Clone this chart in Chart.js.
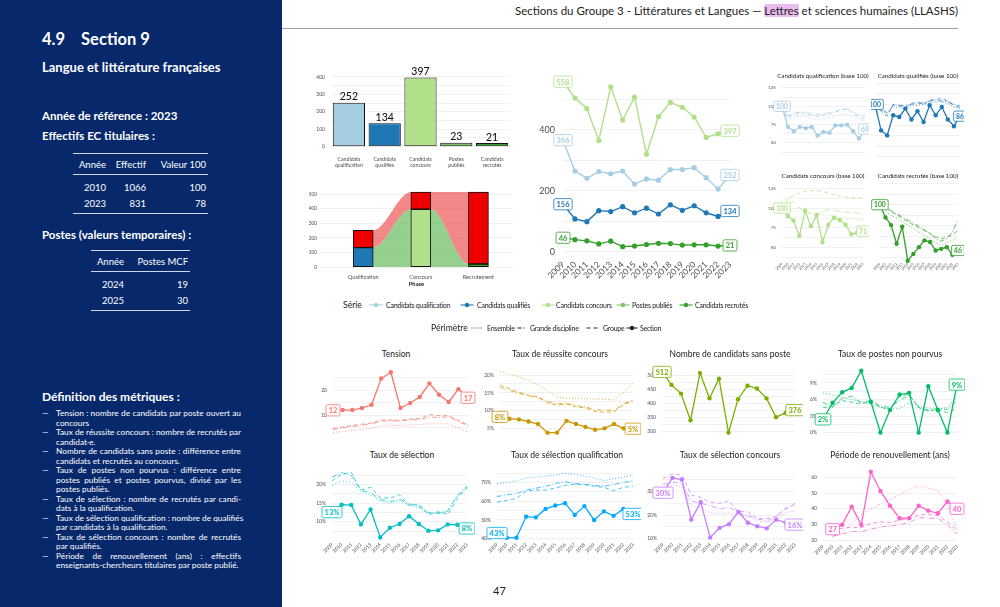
<!DOCTYPE html>
<html lang="fr">
<head>
<meta charset="utf-8">
<script src="https://cdn.jsdelivr.net/npm/chart.js@4.4.1/dist/chart.umd.min.js"></script>
<style>
  html, body { margin: 0; padding: 0; }
  body { width: 1000px; height: 607px; position: relative; overflow: hidden; background: #fff; font-family: Lato, "Open Sans", sans-serif; color: #222; }
  .abs { position: absolute; }
  #side { position: absolute; left: 0; top: 0; width: 282px; height: 607px; background: #07296c; color: #fff; }
  #side .h1 { position: absolute; left: 42px; top: 29px; font-size: 16.5px; font-weight: 700; white-space: nowrap; }
  #side .h2 { position: absolute; left: 42px; font-size: 13px; font-weight: 700; white-space: nowrap; }
  #side .h3 { position: absolute; left: 42px; font-size: 11.5px; font-weight: 700; white-space: nowrap; }
  #side table { position: absolute; border-collapse: collapse; font-size: 9.5px; border-top: 1px solid #cfd6e6; border-bottom: 1px solid #cfd6e6; table-layout: fixed; }
  #side th { font-weight: 400; padding: 5px 2px 4px 0; text-align: right; border-bottom: 1px solid #cfd6e6; white-space: nowrap; }
  #side td { padding: 2px 2px 2px 0; text-align: right; height: 12px; white-space: nowrap; }
  #side tr.r1 td { padding-top: 6px; }
  #side tr.r2 td { padding-bottom: 4px; }
  #defs { position: absolute; left: 42px; top: 409px; width: 199px; font-size: 8.3px; line-height: 9.5px; }
  #defs .it { position: relative; padding-left: 14px; }
  #defs .it::before { content: "\2014"; position: absolute; left: 0; top: 0; }
  #defs .j { text-align: justify; text-align-last: justify; white-space: nowrap; }
  .ttl { position: absolute; transform: translate(-50%, -50%); white-space: nowrap; color: #222; }
  .leg { position: absolute; white-space: nowrap; font-size: 7px; letter-spacing: -0.25px; color: #222; transform: translateY(-50%); }
  .legsvg { position: absolute; transform: translateY(-50%); }
</style>
</head>
<body>
<div id="side">
  <div class="h1">4.9&nbsp;&nbsp;&nbsp;&nbsp;Section 9</div>
  <div class="h2" style="top:59px">Langue et littérature françaises</div>
  <div class="h3" style="top:109px">Année de référence : 2023</div>
  <div class="h3" style="top:129px">Effectifs EC titulaires :</div>
  <table style="left:73px;top:153px;width:135px">
    <colgroup><col style="width:35px"><col style="width:40px"><col style="width:60px"></colgroup>
    <tr><th>Année</th><th>Effectif</th><th>Valeur 100</th></tr>
    <tr class="r1"><td>2010</td><td>1066</td><td>100</td></tr>
    <tr class="r2"><td>2023</td><td>831</td><td>78</td></tr>
  </table>
  <div class="h3" style="top:228px">Postes (valeurs temporaires) :</div>
  <table style="left:91px;top:250px;width:99px">
    <colgroup><col style="width:35px"><col style="width:64px"></colgroup>
    <tr><th>Année</th><th>Postes MCF</th></tr>
    <tr class="r1"><td>2024</td><td>19</td></tr>
    <tr class="r2"><td>2025</td><td>30</td></tr>
  </table>
  <div class="h3" style="top:389px;font-size:12px">Définition des métriques :</div>
  <div id="defs">
    <div class="it"><div class="j">Tension : nombre de candidats par poste ouvert au</div><div>concours</div></div>
    <div class="it"><div class="j">Taux de réussite concours : nombre de recrutés par</div><div>candidat·e.</div></div>
    <div class="it"><div class="j">Nombre de candidats sans poste : différence entre</div><div>candidats et recrutés au concours.</div></div>
    <div class="it"><div class="j">Taux de postes non pourvus : différence entre</div><div class="j">postes publiés et postes pourvus, divisé par les</div><div>postes publiés.</div></div>
    <div class="it"><div class="j">Taux de sélection : nombre de recrutés par candi-</div><div>dats à la qualification.</div></div>
    <div class="it"><div class="j">Taux de sélection qualification : nombre de qualifiés</div><div>par candidats à la qualification.</div></div>
    <div class="it"><div class="j">Taux de sélection concours : nombre de recrutés</div><div>par qualifiés.</div></div>
    <div class="it"><div class="j">Période de renouvellement (ans) : effectifs</div><div>enseignants-chercheurs titulaires par poste publié.</div></div>
  </div>
</div>

<div class="abs" style="right:42px;top:4px;font-size:11.5px;white-space:nowrap;color:#222">Sections du Groupe 3 - Littératures et Langues — <span style="background:#ebbdee;border-radius:2px">Lettres</span> et sciences humaines (LLASHS)</div>
<div class="abs" style="left:282px;top:28px;width:676px;height:1px;background:#9aa3b2"></div>
<div class="abs" style="left:493px;top:584px;font-size:11px;color:#222">47</div>

<script>
const years = ['2009', '2010', '2011', '2012', '2013', '2014', '2015', '2016', '2017', '2018', '2019', '2020', '2021', '2022', '2023'];

// Effectifs de l'année de référence
const barCats = [['Candidats', 'qualification'], ['Candidats', 'qualifiés'], ['Candidats', 'concours'], ['Postes', 'publiés'], ['Candidats', 'recrutés']];
const barVals = [252, 134, 397, 23, 21];
const serieNames = ['Candidats qualification', 'Candidats qualifiés', 'Candidats concours', 'Postes publiés', 'Candidats recrutés'];
const serieColors = ['#a6cee3', '#1f78b4', '#b2df8a', '#7cc36a', '#33a02c'];

// Flux entre phases (retenus / non retenus)
const phases = ['Qualification', 'Concours', 'Recrutement'];
const phaseKept = [134, 397, 21];
const phaseLost = [118, 118, 494];
const phaseColors = ['#1f78b4', '#b2df8a', '#33a02c'];

// Séries de la section
const candQualif = [366, 265, 241, 263, 256, 265, 222, 239, 235, 270, 270, 276, 243, 206, 252];
const candQualifies = [156, 108, 99, 135, 132, 148, 128, 143, 124, 154, 136, 151, 128, 116, 134];
const candConcours = [558, 504, 470, 365, 541, 432, 507, 320, 443, 490, 474, 442, 375, 387, 397];
const candRecrutes = [46, 40, 36, 26, 35, 17, 19, 24, 28, 27, 22, 23, 23, 19, 21];

// Base 100 : section, groupe, grande discipline, ensemble
const b100Qualif = [100, 72, 66, 72, 70, 72, 60, 65, 64, 74, 74, 75, 66, 56, 69];
const b100QualifGrp = [100, 84, 89, 91, 90, 88, 86, 88, 90, 92, 95, 96, 90, 85, 83];
const b100QualifGd = [100, 87, 91, 92, 92, 90, 89, 90, 91, 93, 96, 97, 92, 88, 86];
const b100QualifEns = [100, 82, 85, 87, 86, 84, 82, 83, 85, 87, 89, 90, 85, 82, 80];
const b100Qualifies = [100, 69, 63, 87, 85, 95, 82, 92, 79, 99, 87, 97, 82, 74, 86];
const b100QualifiesGrp = [100, 92, 86, 100, 98, 97, 101, 103, 100, 105, 106, 107, 104, 99, 96];
const b100QualifiesGd = [100, 95, 90, 99, 99, 98, 100, 101, 102, 104, 105, 104, 103, 100, 98];
const b100QualifiesEns = [100, 93, 89, 97, 96, 95, 98, 99, 100, 102, 103, 103, 101, 97, 95];
const b100Concours = [100, 90, 84, 65, 97, 77, 91, 57, 79, 88, 85, 79, 67, 69, 71];
const b100ConcoursGrp = [100, 112, 116, 119, 121, 122, 122, 121, 119, 117, 115, 114, 113, 113, 112];
const b100ConcoursGd = [100, 106, 108, 100, 97, 92, 93, 96, 98, 97, 96, 95, 94, 94, 93];
const b100ConcoursEns = [100, 97, 96, 95, 95, 94, 93, 92, 91, 90, 89, 88, 87, 86, 85];
const b100Recrutes = [100, 85, 76, 54, 74, 34, 42, 50, 58, 56, 46, 48, 50, 41, 46];
const b100RecrutesGrp = [100, 96, 92, 88, 84, 80, 76, 73, 70, 66, 62, 60, 62, 64, 70];
const b100RecrutesGd = [100, 97, 93, 89, 86, 82, 78, 75, 70, 66, 60, 57, 60, 68, 82];
const b100RecrutesEns = [100, 92, 88, 84, 80, 76, 72, 68, 64, 60, 55, 52, 55, 58, 62];

// Métriques : section, groupe, grande discipline, ensemble
const tension = [12, 12.1, 12.1, 12.9, 14.2, 24.6, 27.1, 12.9, 14.9, 17.3, 22.7, 18.2, 15.3, 20.4, 17];
const tensionGrp = [4.8, 5.4, 6.0, 6.5, 7.0, 8.1, 8.2, 8.0, 8.6, 8.8, 10.3, 9.9, 9.9, 8.0, 6.2];
const tensionGd = [4.4, 5.0, 5.6, 6.1, 6.6, 7.7, 7.9, 7.7, 8.2, 8.4, 9.3, 9.2, 9.4, 7.6, 5.9];
const tensionEns = [3.2, 3.6, 4.0, 4.4, 4.8, 5.8, 6.0, 6.0, 6.2, 6.4, 6.6, 6.6, 6.7, 5.0, 3.4];

const reussite = [8.3, 7.8, 7.6, 7.0, 6.3, 3.9, 3.9, 7.2, 6.3, 5.5, 4.7, 5.1, 6.3, 5.1, 5.0];
const reussiteGrp = [17.2, 16.2, 15.2, 14.4, 13.9, 12.2, 11.6, 11.9, 11.1, 10.8, 9.8, 9.6, 9.7, 11.7, 12.7];
const reussiteGd = [16.6, 15.7, 14.9, 14.2, 13.7, 12.6, 11.9, 12.1, 11.4, 11.1, 10.3, 10.2, 10.1, 12.0, 12.9];
const reussiteEns = [21.0, 20.3, 19.5, 18.4, 17.2, 15.6, 13.8, 13.6, 13.5, 13.4, 13.3, 13.2, 13.0, 15.2, 17.7];

const sansPoste = [512, 466, 435, 340, 508, 418, 488, 296, 415, 463, 453, 418, 351, 366, 376];

const nonPourvus = [2.4, 5.4, 7.3, 8.1, 11.2, 5.6, 0, 4.1, 6.9, 7.2, 0, 8.4, 4.1, 0, 8.7];
const nonPourvusGrp = [4.5, 4.8, 5.8, 5.5, 5.2, 5.6, 4.6, 4.2, 6.5, 7.0, 4.5, 3.9, 4.2, 3.6, 4.4];
const nonPourvusGd = [5.5, 4.6, 6.2, 6.6, 5.4, 5.8, 4.8, 4.6, 5.8, 6.8, 4.6, 4.0, 4.4, 4.2, 5.8];
const nonPourvusEns = [7.2, 6.8, 6.4, 6.0, 5.6, 5.2, 4.6, 4.2, 4.4, 5.4, 4.8, 4.4, 4.2, 4.6, 6.6];

const selection = [12.6, 14.6, 14.5, 9.3, 13.3, 5.8, 8.4, 9.4, 11.5, 9.4, 7.6, 7.7, 9.3, 9.2, 8.2];
const selectionGrp = [21.0, 22.8, 23.3, 18.5, 19.3, 16.5, 16.3, 17.3, 14.3, 14.8, 11.9, 12.7, 12.0, 16.2, 19.3];
const selectionGd = [22.0, 23.2, 22.5, 18.5, 17.8, 16.0, 15.4, 16.0, 14.8, 14.2, 12.5, 12.2, 13.0, 17.0, 19.6];
const selectionEns = [19.8, 21.0, 20.6, 18.0, 17.2, 15.6, 15.0, 15.6, 14.5, 13.8, 12.2, 12.5, 12.7, 17.0, 19.0];

const selQualif = [43, 40.5, 40.5, 51.8, 51.4, 55.9, 57.7, 59.0, 52.7, 57.4, 50.0, 54.6, 52.2, 55.9, 53.2];
const selQualifGrp = [59.5, 60.5, 61.5, 65.5, 66, 66, 67, 68.5, 69, 69, 68, 67.5, 65.5, 67.5, 68];
const selQualifGd = [62.5, 63.5, 64, 66, 67, 68, 69.5, 70.5, 69.5, 69, 68.5, 68, 69, 70, 71];
const selQualifEns = [69.5, 70, 71, 72.5, 73, 73.5, 74, 75, 74.5, 73.5, 72.5, 71, 72, 73, 74];

const selConcours = [29.5, 35.8, 35.1, 18.1, 25.5, 10.5, 14.6, 16.2, 21.4, 16.8, 15.3, 14.4, 18.1, 16.8, 16.0];
const selConcoursGrp = [35.5, 37.5, 37, 28.5, 27.5, 25.5, 25, 26, 21.5, 21.5, 18.5, 18.5, 19.5, 22.5, 24.5];
const selConcoursGd = [33, 34, 33.5, 26, 25, 24, 22.5, 23.5, 21, 20, 18.5, 17.5, 19.5, 23, 25];
const selConcoursEns = [30.5, 33, 32, 24, 23.5, 21, 20.5, 21, 20, 19.5, 17.5, 17, 18.5, 21, 22];

const renouv = [null, 27, 29.8, 41.3, 29.8, 63.5, 51.3, 41.9, 34, 34, 41.9, 38.8, 37.1, 44.6, 40];
const renouvGrp = [null, 26, 27.5, 28.3, 28, 30.8, 31.7, 31.3, 32.7, 33.7, 36, 36.5, 35.6, 31.7, 26];
const renouvGd = [null, 22.5, 24, 25.5, 25.5, 27, 28.5, 29, 30, 31, 34.5, 34, 34, 29.5, 24];
const renouvEns = [null, 22, 25, 31, 36, 40, 43, 46, 49, 52, 54.5, 53, 51.5, 42, 27];

Chart.defaults.font.family = 'Lato, "Open Sans", sans-serif';
Chart.defaults.color = '#4d4d4d';
Chart.defaults.animation = false;
Chart.defaults.plugins.legend.display = false;
Chart.defaults.plugins.tooltip.enabled = false;

const GRID = '#ebebeb';

// étiquettes encadrées au début et à la fin des séries de la section
const endLabels = {
  id: 'endLabels',
  afterDatasetsDraw(chart) {
    const ctx = chart.ctx;
    chart.data.datasets.forEach((ds, i) => {
      if (!ds.endLabel) return;
      const pts = chart.getDatasetMeta(i).data;
      const idx = ds.data.map((v, k) => (v == null ? -1 : k)).filter(k => k >= 0);
      const sz = ds.endLabel.size;
      [idx[0], idx[idx.length - 1]].forEach(k => {
        const p = pts[k];
        const txt = ds.endLabel.fmt(ds.data[k]);
        ctx.save();
        ctx.font = `700 ${sz}px Lato, sans-serif`;
        const w = ctx.measureText(txt).width + sz * 0.7;
        const h = sz * 1.5;
        ctx.beginPath();
        if (ctx.roundRect) ctx.roundRect(p.x - w / 2, p.y - h / 2, w, h, 1.5);
        else ctx.rect(p.x - w / 2, p.y - h / 2, w, h);
        ctx.fillStyle = '#fff';
        ctx.fill();
        ctx.lineWidth = 0.8;
        ctx.strokeStyle = ds.borderColor;
        ctx.stroke();
        ctx.fillStyle = ds.borderColor;
        ctx.textAlign = 'center';
        ctx.textBaseline = 'middle';
        ctx.fillText(txt, p.x, p.y + 0.5);
        ctx.restore();
      });
    });
  }
};

// valeurs au-dessus des barres
const barValues = {
  id: 'barValues',
  afterDatasetsDraw(chart) {
    const ctx = chart.ctx;
    const ds = chart.data.datasets[0];
    ctx.save();
    ctx.font = '500 10.5px Lato, sans-serif';
    ctx.fillStyle = '#111';
    ctx.textAlign = 'center';
    ctx.textBaseline = 'bottom';
    chart.getDatasetMeta(0).data.forEach((b, k) => ctx.fillText(ds.data[k], b.x, b.y - 0.5));
    ctx.restore();
  }
};

// place un canvas pour que la zone de tracé tombe sur plot = [x0, x1, y0, y1]
function mount(plot, yw, xh, padR, padT) {
  const [x0, x1, y0, y1] = plot;
  const d = document.createElement('div');
  d.className = 'abs';
  d.style.left = (x0 - yw) + 'px';
  d.style.top = (y0 - padT) + 'px';
  d.style.width = (x1 - x0 + yw + padR) + 'px';
  d.style.height = (y1 - y0 + padT + xh) + 'px';
  const c = document.createElement('canvas');
  d.appendChild(c);
  document.body.appendChild(d);
  return c;
}

function title(text, x, y, size) {
  const t = document.createElement('div');
  t.className = 'ttl';
  t.style.left = x + 'px';
  t.style.top = y + 'px';
  t.style.fontSize = size + 'px';
  t.textContent = text;
  document.body.appendChild(t);
}

function isMajor(v, major) {
  return Math.abs(v / major - Math.round(v / major)) < 1e-6;
}

function yScale(o) {
  return {
    min: o.min, max: o.max,
    grid: { color: GRID, lineWidth: 0.7, drawTicks: false },
    border: { display: false },
    afterBuildTicks: a => {
      const t = [];
      for (let v = Math.ceil(o.min / o.step - 1e-9) * o.step; v <= o.max + 1e-9; v += o.step) t.push({ value: +v.toFixed(6) });
      a.ticks = t;
    },
    ticks: {
      display: o.yw > 5,
      font: { size: o.tick }, padding: o.tickPad || 6, color: '#4d4d4d',
      callback: v => (isMajor(v, o.major) ? o.fmt(v) : '')
    },
    afterFit: s => { s.width = o.yw; }
  };
}

function lineSet(data, color, kind, lbl) {
  const ds = { data, borderColor: color, backgroundColor: color, pointRadius: 0, borderWidth: 0.9, tension: 0, clip: false };
  if (kind === 'sec') Object.assign(ds, { borderWidth: 1.3, pointRadius: 2.2, pointBorderWidth: 0, order: 0, endLabel: lbl });
  if (kind === 'grp') Object.assign(ds, { borderDash: [4, 3], order: 1 });
  if (kind === 'gd') Object.assign(ds, { borderDash: [5, 2, 1, 2], order: 2 });
  if (kind === 'ens') Object.assign(ds, { borderDash: [1, 2], order: 3 });
  return ds;
}

function smallLine(o) {
  const c = mount(o.plot, o.yw, o.xh, o.padR, o.padT);
  const soft = o.color + 'cc';
  const sets = [lineSet(o.sec, o.color, 'sec', { size: o.lblSize || 7.5, fmt: o.lblFmt })];
  if (o.grp) sets.push(lineSet(o.grp, soft, 'grp'));
  if (o.gd) sets.push(lineSet(o.gd, soft, 'gd'));
  if (o.ens) sets.push(lineSet(o.ens, soft, 'ens'));
  new Chart(c, {
    type: 'line',
    data: { labels: years, datasets: sets },
    options: {
      responsive: true, maintainAspectRatio: false,
      layout: { padding: { top: o.padT, right: o.padR, left: 0, bottom: o.showX ? 0 : o.xh } },
      scales: {
        x: {
          display: o.showX, offset: false, grid: { display: false, drawTicks: false }, border: { display: false },
          ticks: { font: { size: o.xFont || 5 }, maxRotation: 45, minRotation: 45, autoSkip: false, padding: 3, color: '#4d4d4d' },
          afterFit: s => { s.height = o.xh; }
        },
        y: yScale(o)
      }
    },
    plugins: [endLabels]
  });
}

// --- Barres : effectifs 2023 ---
(function () {
  const plot = [331, 510, 70, 150.2];
  const c = mount(plot, 24, 22, 5, 9);
  new Chart(c, {
    type: 'bar',
    data: {
      labels: barCats,
      datasets: [{ data: barVals, backgroundColor: serieColors, borderColor: '#111', borderWidth: 1, borderSkipped: false, barPercentage: 0.9, categoryPercentage: 1 }]
    },
    options: {
      responsive: true, maintainAspectRatio: false,
      layout: { padding: { top: 9, right: 5, left: 0, bottom: 0 } },
      scales: {
        x: { grid: { display: false, drawTicks: false }, border: { display: false }, ticks: { font: { size: 5.2, lineHeight: 1.15 }, maxRotation: 0, autoSkip: false, padding: 6, color: '#4d4d4d' }, afterFit: s => { s.height = 22; } },
        y: yScale({ min: -20, max: 440, step: 50, major: 100, fmt: v => v, tick: 5, yw: 24 })
      }
    },
    plugins: [barValues]
  });
})();

// --- Flux entre phases ---
(function () {
  const plot = [320, 513, 185, 270];
  const c = mount(plot, 15, 18, 3, 3);
  const half = 0.173;
  const keptLine = [], topLine = [];
  phases.forEach((p, k) => {
    [k - half, k, k + half].forEach(x => {
      keptLine.push({ x, y: phaseKept[k] });
      topLine.push({ x, y: phaseKept[k] + phaseLost[k] });
    });
  });
  new Chart(c, {
    data: {
      datasets: [
        { type: 'line', data: keptLine, borderWidth: 0, pointRadius: 0, cubicInterpolationMode: 'monotone', fill: 'origin', backgroundColor: 'rgba(110,190,100,0.72)', order: 2 },
        { type: 'line', data: topLine, borderWidth: 0, pointRadius: 0, cubicInterpolationMode: 'monotone', fill: '-1', backgroundColor: 'rgba(238,80,80,0.68)', order: 2 },
        { type: 'bar', data: phaseKept.map((v, k) => ({ x: k, y: [0, v] })), backgroundColor: phaseColors, borderColor: '#111', borderWidth: 1, borderSkipped: false, barThickness: 20, grouped: false, order: 0 },
        { type: 'bar', data: phaseKept.map((v, k) => ({ x: k, y: [v, v + phaseLost[k]] })), backgroundColor: '#ee0000', borderColor: '#111', borderWidth: 1, borderSkipped: false, barThickness: 20, grouped: false, order: 0 }
      ]
    },
    options: {
      responsive: true, maintainAspectRatio: false,
      layout: { padding: { top: 3, right: 3, left: 0, bottom: 0 } },
      scales: {
        x: {
          type: 'linear', offset: false, min: -0.75, max: 2.6, grid: { display: false, drawTicks: false }, border: { display: false },
          afterBuildTicks: a => { a.ticks = phases.map((p, k) => ({ value: k })); },
          ticks: { font: { size: 5.5 }, padding: 4, color: '#4d4d4d', callback: v => phases[v] },
          title: { display: true, text: 'Phase', font: { size: 5.8, weight: 'bold' }, color: '#222', padding: 0 },
          afterFit: s => { s.height = 18; }
        },
        y: yScale({ min: -20, max: 544, step: 50, major: 100, fmt: v => v, tick: 4.8, yw: 15, tickPad: 3 })
      }
    }
  });
})();

// --- Séries de la section ---
(function () {
  const plot = [563, 730, 70, 256.4];
  const c = mount(plot, 33, 32, 15, 10);
  const main = [
    [candConcours, serieColors[2]],
    [candQualif, serieColors[0]],
    [candQualifies, serieColors[1]],
    [candRecrutes, serieColors[4]]
  ].map(([d, col]) => Object.assign(lineSet(d, col, 'sec', { size: 7.5, fmt: v => Math.round(v) }), { borderWidth: 1.4, pointRadius: 2.6 }));
  new Chart(c, {
    type: 'line',
    data: { labels: years, datasets: main },
    options: {
      responsive: true, maintainAspectRatio: false,
      layout: { padding: { top: 10, right: 15, left: 0, bottom: 0 } },
      scales: {
        x: { offset: false, grid: { display: false, drawTicks: false }, border: { display: false }, ticks: { font: { size: 8.5 }, maxRotation: 45, minRotation: 45, autoSkip: false, padding: 3, color: '#4d4d4d' }, afterFit: s => { s.height = 32; } },
        y: yScale({ min: -15, max: 585, step: 100, major: 200, fmt: v => v, tick: 9, yw: 33, tickPad: 8 })
      }
    },
    plugins: [endLabels]
  });
})();

// --- Base 100 ---
const b100Axis = { min: 36, max: 128, step: 12.5, major: 25, fmt: v => v, tick: 4.6, lblSize: 6.8, lblFmt: v => Math.round(v), padR: 4, padT: 2, xFont: 3.6 };
smallLine(Object.assign({}, b100Axis, { plot: [782, 865, 79, 160], yw: 24, xh: 2, showX: false, color: serieColors[0], sec: b100Qualif, grp: b100QualifGrp, gd: b100QualifGd, ens: b100QualifEns }));
smallLine(Object.assign({}, b100Axis, { plot: [873, 960, 79, 160], yw: 2, xh: 2, showX: false, color: serieColors[1], sec: b100Qualifies, grp: b100QualifiesGrp, gd: b100QualifiesGd, ens: b100QualifiesEns }));
smallLine(Object.assign({}, b100Axis, { plot: [782, 865, 179, 259], yw: 24, xh: 24, showX: true, color: serieColors[2], sec: b100Concours, grp: b100ConcoursGrp, gd: b100ConcoursGd, ens: b100ConcoursEns }));
smallLine(Object.assign({}, b100Axis, { plot: [873, 960, 179, 259], yw: 2, xh: 24, showX: true, color: serieColors[4], sec: b100Recrutes, grp: b100RecrutesGrp, gd: b100RecrutesGd, ens: b100RecrutesEns }));
title('Candidats qualification (base 100)', 823, 75, 6.2);
title('Candidats qualifiés (base 100)', 918, 75, 6.2);
title('Candidats concours (base 100)', 823, 175, 6.2);
title('Candidats recrutés (base 100)', 918, 175, 6.2);

// --- Métriques ---
const pct = v => v + '%';
const pctLbl = v => Math.round(v) + '%';
const num = v => v;
const numLbl = v => Math.round(v);
const hue = { tension: '#F8766D', reussite: '#CD9600', sansPoste: '#7CAE00', nonPourvus: '#00BE67', selection: '#00BFC4', selQualif: '#00A9FF', selConcours: '#C77CFF', renouv: '#FF61CC' };
const row1 = { padR: 8, padT: 2, xh: 4, showX: false, tick: 5, lblSize: 7.5 };
const row2 = { padR: 8, padT: 2, xh: 22, showX: true, tick: 5, lblSize: 7.5, xFont: 4.8 };

smallLine(Object.assign({}, row1, { plot: [333, 468, 363, 438], yw: 24, min: 3, max: 28, step: 5, major: 10, fmt: num, lblFmt: numLbl, color: hue.tension, sec: tension, grp: tensionGrp, gd: tensionGd, ens: tensionEns }));
smallLine(Object.assign({}, row1, { plot: [500, 633, 363, 438], yw: 26, min: 3.8, max: 21.4, step: 2.5, major: 5, fmt: pct, lblFmt: pctLbl, color: hue.reussite, sec: reussite, grp: reussiteGrp, gd: reussiteGd, ens: reussiteEns }));
smallLine(Object.assign({}, row1, { plot: [662, 795, 363, 439], yw: 22, min: 291, max: 519, step: 25, major: 50, fmt: num, lblFmt: numLbl, color: hue.sansPoste, sec: sansPoste }));
smallLine(Object.assign({}, row1, { plot: [823, 957, 362, 439], yw: 22, min: -0.26, max: 11.53, step: 1.5, major: 3, fmt: pct, lblFmt: pctLbl, color: hue.nonPourvus, sec: nonPourvus, grp: nonPourvusGrp, gd: nonPourvusGd, ens: nonPourvusEns }));

smallLine(Object.assign({}, row2, { plot: [332, 467, 464, 539], yw: 25, min: 5.37, max: 23.66, step: 2.5, major: 5, fmt: pct, lblFmt: pctLbl, color: hue.selection, sec: selection, grp: selectionGrp, gd: selectionGd, ens: selectionEns }));
smallLine(Object.assign({}, row2, { plot: [497, 633, 464, 539], yw: 26, min: 39.8, max: 76.2, step: 5, major: 10, fmt: pct, lblFmt: pctLbl, color: hue.selQualif, sec: selQualif, grp: selQualifGrp, gd: selQualifGd, ens: selQualifEns }));
smallLine(Object.assign({}, row2, { plot: [663, 795, 464, 539], yw: 22, min: 9.9, max: 38.7, step: 5, major: 10, fmt: pct, lblFmt: pctLbl, color: hue.selConcours, sec: selConcours, grp: selConcoursGrp, gd: selConcoursGd, ens: selConcoursEns }));
smallLine(Object.assign({}, row2, { plot: [823, 957, 464, 541], yw: 22, min: 19.5, max: 64, step: 5, major: 10, fmt: num, lblFmt: numLbl, color: hue.renouv, sec: renouv, grp: renouvGrp, gd: renouvGd, ens: renouvEns }));

title('Tension', 396, 354, 8.5);
title('Taux de réussite concours', 560, 354, 8.5);
title('Nombre de candidats sans poste', 730, 354, 8.5);
title('Taux de postes non pourvus', 890, 354, 8.5);
title('Taux de sélection', 402, 455, 8.5);
title('Taux de sélection qualification', 567, 455, 8.5);
title('Taux de sélection concours', 730, 455, 8.5);
title('Période de renouvellement (ans)', 890, 455, 8.5);

// --- Légende ---
function legText(text, x, y, size) {
  const t = document.createElement('div');
  t.className = 'leg';
  t.style.left = x + 'px';
  t.style.top = y + 'px';
  if (size) { t.style.fontSize = size + 'px'; t.style.letterSpacing = '0'; }
  t.textContent = text;
  document.body.appendChild(t);
}
function legKey(x, y, w, color, dash, dot) {
  const ns = 'http://www.w3.org/2000/svg';
  const s = document.createElementNS(ns, 'svg');
  s.setAttribute('class', 'legsvg');
  s.setAttribute('width', w);
  s.setAttribute('height', 8);
  s.style.left = x + 'px';
  s.style.top = y + 'px';
  const l = document.createElementNS(ns, 'line');
  l.setAttribute('x1', 0.5); l.setAttribute('y1', 4); l.setAttribute('x2', w - 0.5); l.setAttribute('y2', 4);
  l.setAttribute('stroke', color); l.setAttribute('stroke-width', 1.1);
  if (dash) l.setAttribute('stroke-dasharray', dash);
  s.appendChild(l);
  if (dot) {
    const ci = document.createElementNS(ns, 'circle');
    ci.setAttribute('cx', w / 2); ci.setAttribute('cy', 4); ci.setAttribute('r', 2.2); ci.setAttribute('fill', color);
    s.appendChild(ci);
  }
  document.body.appendChild(s);
}
legText('Série', 343, 305, 8.6);
const legX = [[369, 386], [460, 477], [541, 556], [616, 632], [679, 695]];
serieNames.forEach((n, k) => {
  legKey(legX[k][0], 305, 14, serieColors[k], null, true);
  legText(n, legX[k][1], 305);
});
legText('Périmètre', 431, 328, 8.6);
legKey(471, 328, 12, '#222', '1,2', false);
legText('Ensemble', 487, 328);
legKey(517, 328, 10, '#222', '4,2,1,2', false);
legText('Grande discipline', 530, 328);
legKey(586, 328, 12, '#222', '4,3', false);
legText('Groupe', 603, 328);
legKey(626, 328, 12, '#222', null, true);
legText('Section', 640, 328);
</script>
</body>
</html>
